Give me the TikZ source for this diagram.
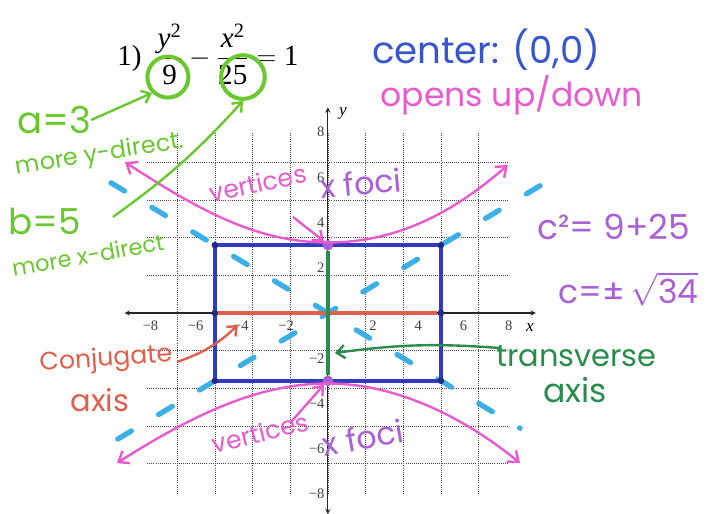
\documentclass[tikz,border=0pt]{standalone}
\usepackage{amsmath}
\usepackage{fontspec}
\setmainfont{Liberation Serif}
\newfontfamily\hand{Poppins}
\usetikzlibrary{arrows.meta}
\definecolor{hgreen}{RGB}{105,200,45}
\definecolor{hblue}{RGB}{55,85,205}
\definecolor{rblue}{RGB}{50,60,195}
\definecolor{hpink}{RGB}{232,90,205}
\definecolor{hpurple}{RGB}{170,95,215}
\definecolor{hred}{RGB}{222,95,75}
\definecolor{dgreen}{RGB}{40,140,75}
\definecolor{hcyan}{RGB}{60,175,230}
\tikzset{
  hw/.style={font=\hand,inner sep=0pt},
  tk/.style={font=\fontsize{11}{12}\selectfont,text=black!75,inner sep=1pt},
  gridln/.style={draw=black!70,densely dotted,line width=0.6pt},
  axis/.style={<->,>=stealth,draw=black!85,line width=0.8pt},
  gcirc/.style={circle,draw=hgreen,line width=3pt,inner sep=0pt},
  vdot/.style={circle,fill=hpurple,inner sep=0pt,minimum size=8pt},
  bdot/.style={circle,fill=rblue!70!black,inner sep=0pt,minimum size=5pt},
  box/.style={draw=rblue,line width=3pt},
  conj/.style={draw=hred,line width=3pt},
  trans/.style={draw=dgreen,line width=2.4pt},
  asym/.style={draw=hcyan,line width=4pt,line cap=round,dash pattern=on 12pt off 24pt},
  hyp/.style={<->,>={Straight Barb[length=7pt,width=11pt]},draw=hpink,line width=1.8pt},
  harr/.style={->,>={Straight Barb[length=6pt,width=10pt]},line width=1.8pt},
}
\begin{document}
\begin{tikzpicture}[x=0.6cm,y=0.6cm]
\useasboundingbox (-14.51,-8.85) rectangle (16.73,13.85);
\draw[gridln] (-8,-8) grid (8,8);
\draw[axis] (-9.0,0) -- (9.2,0);
\draw[axis] (0,-8.9) -- (0,9.1);
\node[font=\fontsize{13}{14}\selectfont\itshape] (lx) at (8.94,-0.66) {x};
\node[font=\fontsize{13}{14}\selectfont\itshape] (ly) at (0.66,8.85) {y};
\node[tk] (tx_m8) at (-7.85,-0.55) {−8};
\node[tk] (tx_m6) at (-5.85,-0.55) {−6};
\node[tk] (tx_m4) at (-3.85,-0.55) {−4};
\node[tk] (tx_m2) at (-1.85,-0.55) {−2};
\node[tk] (tx_2) at (2,-0.55) {2};
\node[tk] (tx_4) at (4,-0.55) {4};
\node[tk] (tx_6) at (6,-0.55) {6};
\node[tk] (tx_8) at (8,-0.55) {8};
\node[tk,anchor=east] (ty_8) at (-0.08,8) {8};
\node[tk,anchor=east] (ty_6) at (-0.08,6) {6};
\node[tk,anchor=east] (ty_4) at (-0.08,4) {4};
\node[tk,anchor=east] (ty_2) at (-0.08,2) {2};
\node[tk,anchor=east] (ty_m2) at (-0.08,-2) {−2};
\node[tk,anchor=east] (ty_m4) at (-0.08,-4) {−4};
\node[tk,anchor=east] (ty_m6) at (-0.08,-6) {−6};
\node[tk,anchor=east] (ty_m8) at (-0.08,-8) {−8};
\draw[asym] (-9.6,5.76) -- (8.5,-5.1);
\draw[asym] (-9.3,-5.58) -- (9.7,5.82);
\draw[box] (-5,-3) rectangle (5,3);
\node[vdot] (v_top) at (0,3) {};
\node[vdot] (v_bot) at (0,-3) {};
\node[bdot] (c_o) at (0,0) {};
\node[bdot] (c_l) at (-5,0) {};
\node[bdot] (c_r) at (5,0) {};
\node[bdot] (k_1) at (-5,3) {};
\node[bdot] (k_2) at (5,3) {};
\node[bdot] (k_3) at (-5,-3) {};
\node[bdot] (k_4) at (5,-3) {};
\draw[conj] (c_l) -- (c_r);
\draw[trans] (v_top) -- (v_bot);
\draw[hyp] (-8.98,6.68) .. controls (-5.5,4.4) and (-3,3.12) .. (0,3.12) .. controls (3,3.12) and (5.5,4.4) .. (7.96,6.55);
\draw[hyp] (-9.34,-6.64) .. controls (-5.8,-4.4) and (-3,-3.12) .. (0,-3.12) .. controls (3,-3.12) and (6,-4.6) .. (8.5,-6.64);
\node[font=\fontsize{22}{26}\selectfont] (eq) at (-5.31,11.45) {1)\ \ $\dfrac{\textit{y}^{\text{2}}}{\text{9}}-\dfrac{\textit{x}^{\text{2}}}{\text{25}}=\text{1}$};
\node[gcirc,minimum size=31pt] (c9) at (-7.08,10.44) {};
\node[gcirc,minimum size=33pt] (c25) at (-3.76,10.44) {};
\node[hw,text=hblue,font=\hand\fontsize{28}{30}\selectfont] (t_center) at (7.0,11.64) {center: (0,0)};
\node[hw,text=hpink,font=\hand\fontsize{25}{27}\selectfont] (t_opens) at (8.14,9.65) {opens up/down};
\node[hw,text=hpurple,font=\hand\fontsize{26}{28}\selectfont] (t_c2) at (12.65,3.8) {c²= 9+25};
\node[hw,text=hpurple,font=\hand\fontsize{25}{27}\selectfont] (t_c) at (13.3,1.05) {c=±\,$\sqrt{\text{34}}$};
\node[hw,text=hgreen,font=\hand\fontsize{28}{30}\selectfont] (t_a) at (-12.12,8.54) {a=3};
\node[hw,text=hgreen,font=\hand\fontsize{18}{20}\selectfont,rotate=9] (t_ydir) at (-10.09,6.99) {more y-direct.};
\node[hw,text=hgreen,font=\hand\fontsize{27}{29}\selectfont] (t_b) at (-12.52,4.03) {b=5};
\node[hw,text=hgreen,font=\hand\fontsize{17}{19}\selectfont,rotate=10] (t_xdir) at (-10.62,2.57) {more x-direct};
\node[hw,text=hpink,font=\hand\fontsize{19}{21}\selectfont,rotate=12] (t_vert1) at (-3.1,5.75) {vertices};
\node[hw,text=hpurple,font=\hand\fontsize{24}{26}\selectfont,rotate=5] (t_foci1) at (1.46,5.75) {x foci};
\node[hw,text=hpink,font=\hand\fontsize{19}{21}\selectfont,rotate=14] (t_vert2) at (-3.0,-5.3) {vertices};
\node[hw,text=hpurple,font=\hand\fontsize{24}{26}\selectfont,rotate=10] (t_foci2) at (1.55,-5.5) {x foci};
\node[hw,text=hred,font=\hand\fontsize{19}{21}\selectfont,rotate=4] (t_conj) at (-9.82,-2.08) {Conjugate};
\node[hw,text=hred,font=\hand\fontsize{23}{25}\selectfont] (t_axr) at (-10.09,-3.85) {axis};
\node[hw,text=dgreen,font=\hand\fontsize{23}{25}\selectfont] (t_trans) at (11.0,-1.9) {transverse};
\node[hw,text=dgreen,font=\hand\fontsize{25}{27}\selectfont] (t_axg) at (10.93,-3.4) {axis};
\coordinate (b_tail) at (-9.51,4.25);
\coordinate (v1_tail) at (-1.55,4.25);
\coordinate (v2_tail) at (-1.68,-4.87);
\coordinate (conj_tail) at (-6.68,-2.17);
\coordinate (conj_tip) at (-3.98,-0.53);
\coordinate (trans_tail) at (7.61,-1.55);
\coordinate (trans_tip) at (0.31,-1.77);
\draw[harr,draw=hgreen] (t_a.east) -- (c9.south west);
\draw[harr,draw=hgreen] (b_tail) to[bend right=6] (c25.south);
\draw[harr,draw=hpink] (v1_tail) -- (v_top.north west);
\draw[harr,draw=hpink] (v2_tail) -- (v_bot.south west);
\draw[harr,draw=hred] (conj_tail) to[bend right=12] (conj_tip);
\draw[harr,draw=dgreen] (trans_tail) to[bend right=6] (trans_tip);
\end{tikzpicture}
\end{document}
